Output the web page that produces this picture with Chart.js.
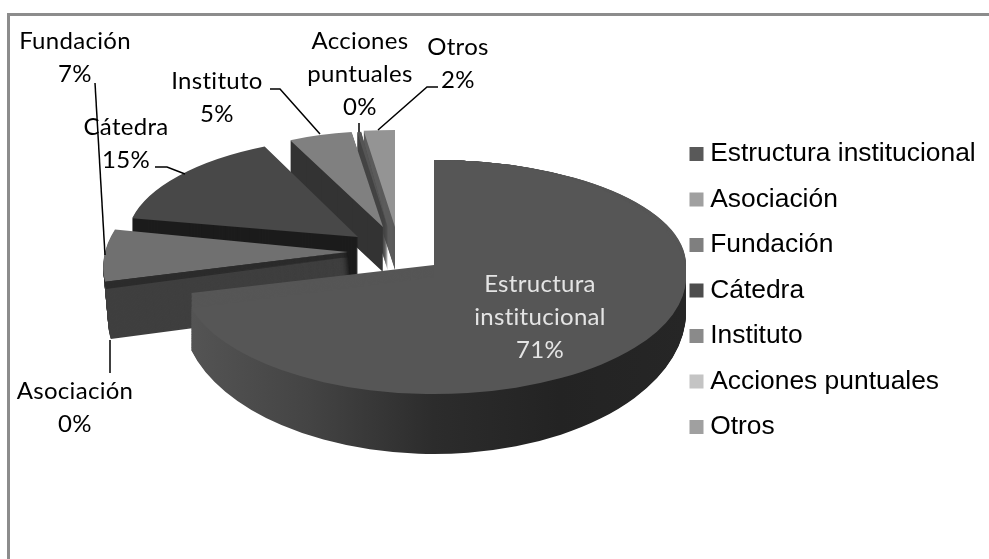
<!DOCTYPE html>
<html lang="es">
<head>
<meta charset="utf-8">
<title>Distribución</title>
<script src="https://cdn.jsdelivr.net/npm/chart.js@4"></script>
<style>
html,body{margin:0;padding:0;background:#fff;}
#wrap{position:relative;width:989px;height:559px;overflow:hidden;}
canvas{display:block;}
#frame{position:absolute;left:7px;top:13px;right:-10px;bottom:-10px;border:3px solid #8c8c8c;pointer-events:none;box-sizing:border-box;}
</style>
</head>
<body>
<div id="wrap"><canvas id="c" width="989" height="559"></canvas><div id="frame"></div></div>
<script>
// ---- data ----
const categories = ['Estructura institucional','Asociación','Fundación','Cátedra','Instituto','Acciones puntuales','Otros'];
const values = [70.7, 0.3, 7, 15, 4.7, 0.3, 2];

// ---- colours ----
const topColors = ['#565656','#2c2c2c','#707070','#484848','#808080','#555555','#949494'];
const sideColors = [null,'#3f3f3f','#3f3f3f','#1c1c1c','#333333','#444444','#5c5c5c'];
const legendColors = ['#595959','#a0a0a0','#7f7f7f','#4d4d4d','#8a8a8a','#c4c4c4','#a0a0a0'];

// ---- 3D view of the pie: the pie sits at the origin, each slice is moved out ----
const pieRadius = 252, originX = 434, originY = 265;
const explodeX = [0,-86,-86,-76,-51,-46,-39];
const explodeY = [12,-13,-13,-28,-38,-37,-38];
const radiusX  = [252,243,243,231,218,214,250];
const radiusY  = [117,120,120,100,96,97,97];
const shearX   = [0,-0.12,-0.12,-0.022,0,0,0];
const depths   = [60,55,55,42,45,43,43];
const drawOrder = [6,5,4,3,2,1,0];

// ---- label placement: centre x, first-line centre y, leader polyline ----
const labelX = [540,75,75,126,217,360,458];
const labelY = [284,391,41,127,81,41,47];
const lineStep = 33;
const leaders = [
  null,
  [[110,340],[110,373]],
  [[95,83],[105,255]],
  [[155,167],[167,167],[185,174]],
  [[270,89],[280,89],[320,134]],
  [[359,123],[359,132]],
  [[438,87],[427,87],[378,130]]
];

const total = values.reduce((a,b)=>a+b,0);

function withColor(arc, color, fn){
  const saved = arc.options;
  arc.options = Object.assign(Object.create(saved), {backgroundColor: color});
  fn();
  arc.options = saved;
}
function place(ctx, arc, ax, ay, rx, ry, sh){
  ctx.translate(ax, ay);
  ctx.transform(rx/pieRadius, 0, sh, ry/pieRadius, 0, 0);
  ctx.translate(-arc.x, -arc.y);
}
const pie3d = {
  id:'pie3d',
  afterLayout(chart){
    const lg = chart.legend, pad = chart.options.plugins.legend.labels.padding;
    lg.left = 696 - pad; lg.right = lg.left + lg.width;
    lg.top = 140.8 - pad; lg.bottom = lg.top + lg.height;
  },
  beforeDatasetsDraw(chart){
    const ctx = chart.ctx, arcs = chart.getDatasetMeta(0).data;
    drawOrder.forEach(i=>{
      const arc = arcs[i];
      const ax = originX + explodeX[i], ay = originY + explodeY[i];
      let side = sideColors[i];
      if(i===0){
        side = ctx.createLinearGradient(arc.x-pieRadius,0,arc.x+pieRadius,0);
        side.addColorStop(0,'#555555'); side.addColorStop(.25,'#444444');
        side.addColorStop(.5,'#2c2c2c'); side.addColorStop(.75,'#232323'); side.addColorStop(1,'#262626');
      }
      for(let d=depths[i]; d>=1; d--){
        const t = d/depths[i];
        let xx = ax, yy = ay + d, ry = radiusY[i];
        if(i===0){ yy = ay + 35*t; ry = radiusY[i] + 25*t; }
        if(i===1 || i===2){ xx = ax + 5*t; }
        let col = side;
        if((i===1 || i===2) && d<=5) col = '#2c2c2c';
        ctx.save();
        place(ctx, arc, xx, yy, radiusX[i], ry, shearX[i]);
        withColor(arc, col, ()=>arc.draw(ctx));
        ctx.restore();
      }
      if(i===0){ // perspective: sweep from the ellipse centre back to the apex
        for(let s=0; s<=12; s++){
          ctx.save();
          place(ctx, arc, originX, originY + s, radiusX[i], 105 + s, 0);
          arc.draw(ctx);
          ctx.restore();
        }
      } else {
        ctx.save();
        place(ctx, arc, ax, ay, radiusX[i], radiusY[i], shearX[i]);
        arc.draw(ctx);
        ctx.restore();
      }
    });
    return false;
  },
  afterDraw(chart){
    const ctx = chart.ctx;
    ctx.save();
    ctx.strokeStyle = '#000'; ctx.lineWidth = 1.5;
    leaders.forEach(pts=>{
      if(!pts) return;
      ctx.beginPath();
      pts.forEach((p,k)=> k ? ctx.lineTo(p[0],p[1]) : ctx.moveTo(p[0],p[1]));
      ctx.stroke();
    });
    ctx.font = '24px Lato'; ctx.textAlign='center'; ctx.textBaseline='middle';
    ctx.letterSpacing = '0.3px';
    categories.forEach((name,i)=>{
      const lines = name.split(' ').concat(Math.round(values[i]/total*100)+'%');
      ctx.fillStyle = i===0 ? '#e4e4e4' : '#000';
      lines.forEach((s,k)=>ctx.fillText(s, labelX[i], labelY[i]+k*lineStep));
    });
    ctx.restore();
  }
};

new Chart(document.getElementById('c'),{
  type:'pie',
  data:{labels:categories,datasets:[{data:values,backgroundColor:topColors,borderWidth:0}]},
  options:{
    responsive:false,animation:false,
    radius:pieRadius,
    events:[],
    plugins:{
      tooltip:{enabled:false},
      legend:{
        position:'right',align:'start',
        labels:{
          boxWidth:1,boxHeight:1,padding:19.1,color:'#000',
          font:{family:'"Liberation Sans"',size:26.4},
          generateLabels:()=>categories.map((t,i)=>({text:t,fillStyle:legendColors[i],strokeStyle:legendColors[i],lineWidth:13,hidden:false,index:i,fontColor:'#000'}))
        }
      }
    }
  },
  plugins:[pie3d]
});
</script>
</body>
</html>
